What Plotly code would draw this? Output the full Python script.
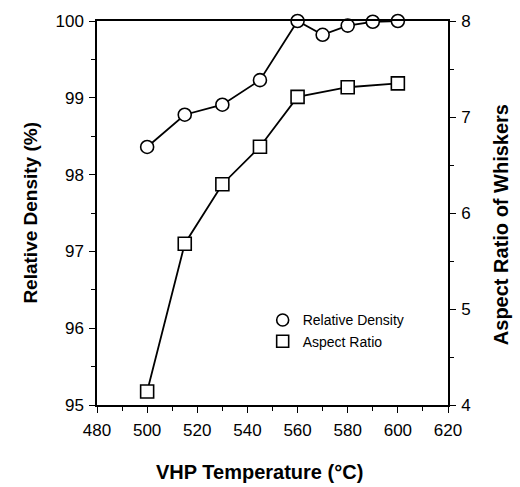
import plotly.graph_objects as go

temp_density = [500, 515, 530, 545, 560, 570, 580, 590, 600]
relative_density = [98.36, 98.78, 98.91, 99.23, 100.0, 99.82, 99.94, 99.99, 100.0]

temp_aspect = [500, 515, 530, 545, 560, 580, 600]
aspect_ratio = [4.14, 5.68, 6.30, 6.69, 7.21, 7.31, 7.35]

x_title = "VHP Temperature (°C)"
y_title = "Relative Density (%)"
y2_title = "Aspect Ratio of Whiskers"
legend_names = ["Relative Density", "Aspect Ratio"]

FONT = "Liberation Sans, Arial, sans-serif"

fig = go.Figure()
fig.add_trace(go.Scatter(
    x=temp_density, y=relative_density, mode="lines+markers",
    line=dict(color="black", width=1.8),
    marker=dict(symbol="circle", size=13, color="white", line=dict(color="black", width=1.6)),
    showlegend=False, cliponaxis=False))
fig.add_trace(go.Scatter(
    x=temp_aspect, y=aspect_ratio, mode="lines+markers", yaxis="y2",
    line=dict(color="black", width=1.8),
    marker=dict(symbol="square", size=13, color="white", line=dict(color="black", width=1.6)),
    showlegend=False, cliponaxis=False))
# legend entries (markers only)
fig.add_trace(go.Scatter(x=[None], y=[None], mode="markers", name=legend_names[0],
    marker=dict(symbol="circle", size=12, color="white", line=dict(color="black", width=1.6))))
fig.add_trace(go.Scatter(x=[None], y=[None], mode="markers", name=legend_names[1],
    marker=dict(symbol="square", size=12, color="white", line=dict(color="black", width=1.6))))

axis_common = dict(showgrid=False, zeroline=False, showline=True, linecolor="black", linewidth=1.5,
                   ticks="outside", tickcolor="black", tickwidth=1.3, ticklen=6,
                   tickfont=dict(family=FONT, size=17, color="black"))

fig.update_layout(
    width=520, height=487,
    margin=dict(l=97, r=72, t=19, b=82),
    paper_bgcolor="white", plot_bgcolor="white",
    font=dict(family=FONT, color="black"),
    xaxis=dict(range=[480, 620], dtick=20, tick0=480, mirror=True, ticklabelstandoff=3,
               minor=dict(dtick=10, ticks="outside", ticklen=4, tickcolor="black"),
               **axis_common),
    yaxis=dict(range=[95, 100], dtick=1, ticklabelstandoff=2,
               minor=dict(dtick=0.5, ticks="outside", ticklen=4, tickcolor="black"),
               **axis_common),
    yaxis2=dict(range=[4, 8], dtick=1, overlaying="y", side="right", ticklabelstandoff=2,
                minor=dict(dtick=0.5, ticks="outside", ticklen=4, tickcolor="black"),
                **axis_common),
    legend=dict(x=0.472, y=0.262, xanchor="left", yanchor="top", bgcolor="rgba(0,0,0,0)",
                font=dict(family=FONT, size=14), itemwidth=30),
    annotations=[
        dict(text=f"<b>{x_title}</b>", xref="paper", yref="paper", x=0.463, y=-0.175,
             xanchor="center", yanchor="middle", showarrow=False, font=dict(family=FONT, size=20)),
        dict(text=f"<b>{y_title}</b>", xref="paper", yref="paper", x=-0.192, y=0.5,
             xanchor="center", yanchor="middle", textangle=-90, showarrow=False,
             font=dict(family=FONT, size=19)),
        dict(text=f"<b>{y2_title}</b>", xref="paper", yref="paper", x=1.15, y=0.47,
             xanchor="center", yanchor="middle", textangle=-90, showarrow=False,
             font=dict(family=FONT, size=20)),
    ],
)

fig.write_html("out.html")
